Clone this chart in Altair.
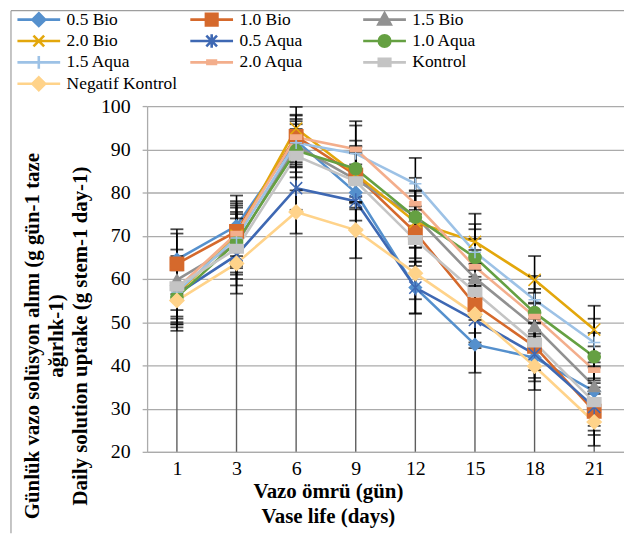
import altair as alt
import pandas as pd

days = ["1", "3", "6", "9", "12", "15", "18", "21"]
series = ["0.5 Bio", "1.0 Bio", "1.5 Bio", "2.0 Bio", "0.5 Aqua", "1.0 Aqua",
          "1.5 Aqua", "2.0 Aqua", "Kontrol", "Negatif Kontrol"]
colors = ["#5590CD", "#D5692C", "#919191", "#E3A70C", "#3E68B3", "#65A042",
          "#9DC2E6", "#F3AE8C", "#C4C4C4", "#FFD38A"]

bio_05 = [64.5, 72.3, 92.0, 80.0, 58.0, 44.8, 41.8, 34.0]
bio_10 = [63.5, 71.0, 93.0, 84.0, 70.8, 54.0, 44.4, 29.4]
bio_15 = [59.8, 68.0, 90.8, 83.0, 74.5, 60.2, 49.0, 35.2]
bio_20 = [56.5, 70.0, 94.8, 84.3, 73.2, 68.6, 59.8, 48.3]
aqua_05 = [56.5, 65.5, 81.0, 78.0, 58.0, 50.5, 42.6, 30.4]
aqua_10 = [55.8, 68.5, 89.7, 85.5, 74.3, 65.0, 52.2, 42.0]
aqua_15 = [57.0, 69.5, 91.5, 89.0, 82.0, 66.2, 55.2, 45.3]
aqua_20 = [57.8, 70.5, 92.8, 90.0, 77.4, 62.8, 51.3, 38.9]
kontrol = [58.3, 67.0, 88.5, 82.6, 69.0, 57.0, 45.3, 31.5]
negatif = [55.0, 63.6, 75.5, 71.3, 61.3, 51.8, 39.8, 26.9]
errors = [7.0, 7.0, 5.0, 6.5, 6.0, 6.5, 5.5, 5.5]

values = [bio_05, bio_10, bio_15, bio_20, aqua_05, aqua_10, aqua_15, aqua_20, kontrol, negatif]

point_shapes = [
    "M-1,0L0,-1L1,0L0,1Z",
    "M-1.1,-1.1H1.1V1.1H-1.1Z",
    "triangle-up",
    "M-1,-1L1,1M-1,1L1,-1",
    "M-1,-1L1,1M-1,1L1,-1M0,-1.3V1.3",
    "circle",
    "M-1,0H1M0,-1V1",
    "M-0.9,-0.35H0.9V0.35H-0.9Z",
    "M-1.1,-0.7H1.1V0.7H-1.1Z",
    "M-1.15,0L0,-1.15L1.15,0L0,1.15Z",
]
L = "M-1,0H1"
legend_shapes = [
    L + "M0,-0.3L0.3,0L0,0.3L-0.3,0Z",
    L + "M-0.27,-0.27H0.27V0.27H-0.27Z",
    L + "M0,-0.3L0.29,0.22H-0.29Z",
    L + "M-0.25,-0.25L0.25,0.25M-0.25,0.25L0.25,-0.25",
    L + "M-0.25,-0.25L0.25,0.25M-0.25,0.25L0.25,-0.25M0,-0.32V0.32",
    L + "M0.27,0A0.27,0.27,0,1,1,-0.27,0A0.27,0.27,0,1,1,0.27,0Z",
    L + "M0,-0.3V0.3",
    L + "M-0.2,-0.08H0.2V0.08H-0.2Z",
    L + "M-0.27,-0.17H0.27V0.17H-0.27Z",
    L + "M0,-0.3L0.3,0L0,0.3L-0.3,0Z",
]

rows = []
for s, vals in zip(series, values):
    for d, v, e in zip(days, vals, errors):
        rows.append({"series": s, "day": d, "value": v, "lo": v - e, "hi": v + e})
df = pd.DataFrame(rows)

FONT = "Liberation Serif"
GRID = "#ABABAB"

xaxis = alt.Axis(title=["Vazo ömrü (gün)", "Vase life (days)"], ticks=False,
                 labelFont=FONT, labelFontSize=20, labelColor="black", labelPadding=7,
                 labelAngle=0, domainColor=GRID, domainWidth=1.3, grid=False,
                 titleFont=FONT, titleFontSize=21, titleFontWeight="bold", titleColor="black",
                 titleLineHeight=25, titleX=182, titleY=29, titleBaseline="top",
                 titleAlign="center", titleAnchor="start")
yaxis = alt.Axis(title=["Günlük vazo solüsyon alımı (g gün-1 taze", "ağırlık-1)",
                        "Daily solution uptake (g  stem-1 day-1)"],
                 values=list(range(20, 101, 10)), tickSize=5, tickColor=GRID, tickWidth=1.3,
                 labelFont=FONT, labelFontSize=20, labelColor="black", labelPadding=12,
                 domainColor=GRID, domainWidth=1.3, gridColor=GRID, gridWidth=1.3,
                 titleFont=FONT, titleFontSize=21, titleFontWeight="bold", titleColor="black",
                 titleLineHeight=24, titleAngle=270, titleX=-126, titleY=231,
                 titleBaseline="top", titleAlign="center", titleAnchor="start")

yscale = alt.Scale(domain=[20, 100], nice=False, zero=False)
X = alt.X("day:O", sort=days, scale=alt.Scale(type="point", padding=0.5), axis=xaxis)

def Y(field):
    return alt.Y(field, type="quantitative", scale=yscale, axis=yaxis)

base = alt.Chart(df)

drop = base.transform_aggregate(top="max(value)", groupby=["day"]).transform_calculate(
    base="20").mark_rule(color="#5E5E5E", strokeWidth=1.4).encode(
    x=X, y=Y("base"), y2="top:Q")

lines = base.mark_line(strokeWidth=2.6).encode(
    x=X, y=Y("value"),
    color=alt.Color("series:N", scale=alt.Scale(domain=series, range=colors), legend=None),
    order=alt.Order("day_idx:Q"),
).transform_calculate(day_idx="indexof(" + str(days) + ", datum.day)")

ebar = base.mark_rule(color="black", strokeWidth=1.6).encode(x=X, y=Y("lo"), y2="hi:Q")
cap_lo = base.mark_tick(color="black", size=13, thickness=1.8).encode(x=X, y=Y("lo"))
cap_hi = base.mark_tick(color="black", size=13, thickness=1.8).encode(x=X, y=Y("hi"))

points = base.mark_point(filled=True, size=150, strokeWidth=1.5, opacity=1).encode(
    x=X, y=Y("value"),
    shape=alt.Shape("series:N", scale=alt.Scale(domain=series, range=point_shapes), legend=None),
    fill=alt.Fill("series:N", scale=alt.Scale(domain=series, range=colors), legend=None),
    stroke=alt.Stroke("series:N", scale=alt.Scale(domain=series, range=colors), legend=None),
)

leg = alt.Legend(title=None, orient="none", legendX=-132, legendY=-96, columns=3,
                 direction="horizontal", clipHeight=18,
                 gridAlign="all", columnPadding=11, rowPadding=3.5, labelOffset=5,
                 labelFont=FONT, labelFontSize=17.5, labelColor="black",
                 symbolSize=1850, symbolStrokeWidth=2.6, padding=0, symbolOpacity=1)
legend_layer = base.mark_point(filled=True, opacity=0).encode(
    x=X, y=Y("value"),
    shape=alt.Shape("series:N", scale=alt.Scale(domain=series, range=legend_shapes), legend=leg),
    fill=alt.Fill("series:N", scale=alt.Scale(domain=series, range=colors), legend=leg),
    stroke=alt.Stroke("series:N", scale=alt.Scale(domain=series, range=colors), legend=leg),
)

one = alt.Chart(pd.DataFrame({"k": [0]}))
border_left = one.mark_rule(color="#9E9E9E", strokeWidth=1.2).encode(
    x=alt.value(-137), y=alt.value(-96), y2=alt.value(430))
border_top = one.mark_rule(color="#9E9E9E", strokeWidth=1.2).encode(
    x=alt.value(-137), x2=alt.value(480), y=alt.value(-96))

chart = alt.layer(
    border_left, border_top, drop, lines, ebar, cap_lo, cap_hi, points, legend_layer
).resolve_scale(shape="independent", fill="independent", stroke="independent").properties(
    width=480, height=348, autosize=alt.AutoSizeParams(type="none"),
    padding={"left": 140, "top": 97, "right": 0, "bottom": 82},
    background="white",
).configure_view(strokeWidth=0)

chart.save("out.html", embed_options={"renderer": "svg", "actions": False})
